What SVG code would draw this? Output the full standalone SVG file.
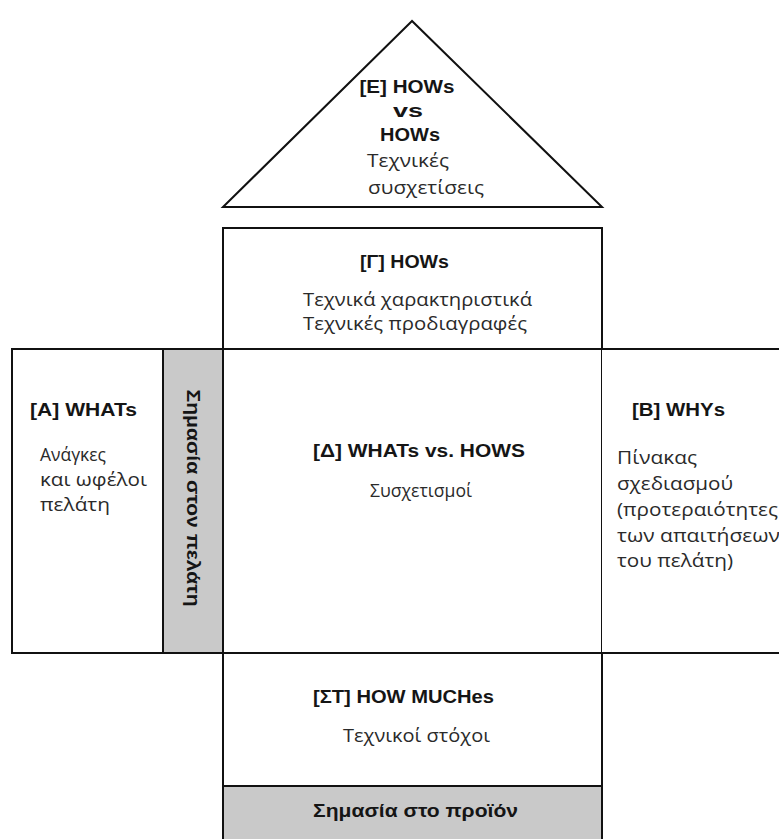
<svg xmlns="http://www.w3.org/2000/svg" width="779" height="839" viewBox="0 0 779 839">
  <style>
    .frame { fill: #ffffff; stroke: #111111; stroke-width: 2; }
    .shade { fill: #c9c9c9; stroke: #111111; stroke-width: 2; }
    .line { fill: none; stroke: #111111; stroke-width: 2; }
    .head { font-family: "Liberation Sans", Arial, sans-serif; font-weight: bold; font-size: 18px; fill: #151515; }
    .body { font-family: "Open Sans", "Liberation Sans", sans-serif; font-size: 19px; fill: #2a2a2a; }
    .mid { text-anchor: middle; }
  </style>
  <rect x="0" y="0" width="779" height="839" fill="#ffffff"/>

  <!-- roof: correlation triangle -->
  <g id="roof">
    <polygon class="frame" points="412,21 223,207 602,207"/>
    <text class="head mid" x="407" y="93" textLength="95" lengthAdjust="spacingAndGlyphs">[E] HOWs</text>
    <text class="head mid" x="408" y="117" textLength="30" lengthAdjust="spacingAndGlyphs">vs</text>
    <text class="head mid" x="410" y="141" textLength="60" lengthAdjust="spacingAndGlyphs">HOWs</text>
    <text class="body" x="367" y="167" textLength="82" lengthAdjust="spacingAndGlyphs">Τεχνικές</text>
    <text class="body" x="368" y="194" textLength="116" lengthAdjust="spacingAndGlyphs">συσχετίσεις</text>
  </g>

  <!-- technical characteristics row -->
  <g id="hows">
    <rect class="frame" x="223" y="228" width="379" height="121"/>
    <text class="head" x="360" y="268" textLength="89" lengthAdjust="spacingAndGlyphs">[Γ] HOWs</text>
    <text class="body" x="303" y="306" textLength="229" lengthAdjust="spacingAndGlyphs">Τεχνικά χαρακτηριστικά</text>
    <text class="body" x="303" y="330" textLength="224" lengthAdjust="spacingAndGlyphs">Τεχνικές προδιαγραφές</text>
  </g>

  <!-- customer needs column -->
  <g id="whats">
    <rect class="frame" x="12" y="349" width="151" height="304"/>
    <text class="head" x="30" y="416" textLength="107" lengthAdjust="spacingAndGlyphs">[A] WHATs</text>
    <text class="body" x="40" y="461" textLength="66" lengthAdjust="spacingAndGlyphs">Ανάγκες</text>
    <text class="body" x="40" y="486" textLength="107" lengthAdjust="spacingAndGlyphs">και ωφέλοι</text>
    <text class="body" x="40" y="511" textLength="70" lengthAdjust="spacingAndGlyphs">πελάτη</text>
  </g>

  <!-- customer importance strip -->
  <g id="customer-importance">
    <rect class="shade" x="163" y="349" width="60" height="304"/>
    <text class="head mid" transform="translate(187 498) rotate(90)" x="0" y="0" textLength="217" lengthAdjust="spacingAndGlyphs">Σημασία στον πελάτη</text>
  </g>

  <!-- relationship matrix -->
  <g id="matrix">
    <rect class="frame" x="223" y="349" width="379" height="304"/>
    <text class="head" x="313" y="457" textLength="212" lengthAdjust="spacingAndGlyphs">[Δ] WHATs vs. HOWS</text>
    <text class="body" x="370" y="497" textLength="102" lengthAdjust="spacingAndGlyphs">Συσχετισμοί</text>
  </g>

  <!-- planning matrix, open on the right -->
  <g id="whys">
    <rect x="602" y="349" width="177" height="304" fill="#ffffff"/>
    <path class="line" d="M602 349 H779 M602 653 H779"/>
    <text class="head" x="632" y="416" textLength="93" lengthAdjust="spacingAndGlyphs">[B] WHYs</text>
    <text class="body" x="617" y="464" textLength="80" lengthAdjust="spacingAndGlyphs">Πίνακας</text>
    <text class="body" x="617" y="490" textLength="116" lengthAdjust="spacingAndGlyphs">σχεδιασμού</text>
    <text class="body" x="617" y="516" textLength="161" lengthAdjust="spacingAndGlyphs">(προτεραιότητες</text>
    <text class="body" x="617" y="542" textLength="163" lengthAdjust="spacingAndGlyphs">των απαιτήσεων</text>
    <text class="body" x="617" y="567" textLength="116" lengthAdjust="spacingAndGlyphs">του πελάτη)</text>
  </g>

  <!-- technical targets row -->
  <g id="how-muches">
    <rect class="frame" x="223" y="653" width="379" height="133"/>
    <text class="head" x="313" y="703" textLength="181" lengthAdjust="spacingAndGlyphs">[ΣΤ] HOW MUCHes</text>
    <text class="body" x="343" y="742" textLength="147" lengthAdjust="spacingAndGlyphs">Τεχνικοί στόχοι</text>
  </g>

  <!-- product importance strip -->
  <g id="product-importance">
    <rect class="shade" x="223" y="786" width="379" height="60"/>
    <text class="head" x="313" y="817" textLength="205" lengthAdjust="spacingAndGlyphs">Σημασία στο προϊόν</text>
  </g>
</svg>
